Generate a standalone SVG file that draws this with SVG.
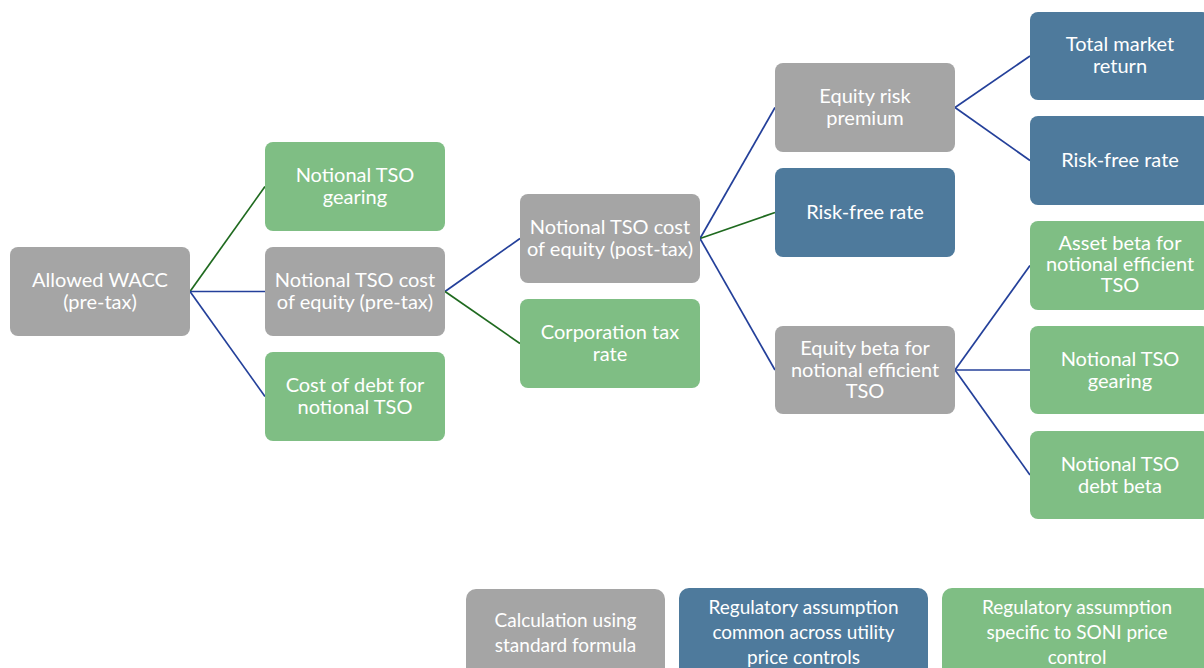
<svg xmlns="http://www.w3.org/2000/svg" width="1204" height="668" viewBox="0 0 1204 668">
<style>
.n rect{stroke:none}
.g rect{fill:#A5A5A5}
.b rect{fill:#4E7A9C}
.e rect{fill:#7FBE84}
text{font-family:Lato,"Liberation Sans",sans-serif;font-size:20px;fill:#fff;text-anchor:middle}
.lg text{font-size:19px}
.cb{stroke:#24409A;stroke-width:1.7;fill:none}
.cg{stroke:#1F6A1F;stroke-width:1.7;fill:none}
</style>
<rect width="1204" height="668" fill="#fff"/>
<g id="connectors">
<line class="cg" x1="190" y1="291.5" x2="265" y2="186.5"/>
<line class="cb" x1="190" y1="291.5" x2="265" y2="291.5"/>
<line class="cb" x1="190" y1="291.5" x2="265" y2="396.5"/>
<line class="cb" x1="445" y1="291.5" x2="520" y2="238.5"/>
<line class="cg" x1="445" y1="291.5" x2="520" y2="343.5"/>
<line class="cb" x1="700" y1="238.5" x2="775" y2="107.5"/>
<line class="cg" x1="700" y1="238.5" x2="775" y2="212.5"/>
<line class="cb" x1="700" y1="238.5" x2="775" y2="370"/>
<line class="cb" x1="955" y1="107.5" x2="1030" y2="56"/>
<line class="cb" x1="955" y1="107.5" x2="1030" y2="160.5"/>
<line class="cb" x1="955" y1="370" x2="1030" y2="265.5"/>
<line class="cb" x1="955" y1="370" x2="1030" y2="370"/>
<line class="cb" x1="955" y1="370" x2="1030" y2="475"/>
</g>
<g id="allowed-wacc" class="n g"><rect x="10" y="247" width="180" height="89" rx="8"/><text x="100" y="287">Allowed WACC</text><text x="100" y="309">(pre-tax)</text></g>
<g id="gearing1" class="n e"><rect x="265" y="142" width="180" height="89" rx="8"/><text x="355" y="182">Notional TSO</text><text x="355" y="204">gearing</text></g>
<g id="coe-pretax" class="n g"><rect x="265" y="247" width="180" height="89" rx="8"/><text x="355" y="287">Notional TSO cost</text><text x="355" y="309">of equity (pre-tax)</text></g>
<g id="cost-of-debt" class="n e"><rect x="265" y="352" width="180" height="89" rx="8"/><text x="355" y="392">Cost of debt for</text><text x="355" y="414">notional TSO</text></g>
<g id="coe-posttax" class="n g"><rect x="520" y="194" width="180" height="89" rx="8"/><text x="610" y="234">Notional TSO cost</text><text x="610" y="256">of equity (post-tax)</text></g>
<g id="corp-tax" class="n e"><rect x="520" y="299" width="180" height="89" rx="8"/><text x="610" y="339">Corporation tax</text><text x="610" y="361">rate</text></g>
<g id="erp" class="n g"><rect x="775" y="63" width="180" height="89" rx="8"/><text x="865" y="103">Equity risk</text><text x="865" y="125">premium</text></g>
<g id="rfr1" class="n b"><rect x="775" y="168" width="180" height="89" rx="8"/><text x="865" y="219">Risk-free rate</text></g>
<g id="equity-beta" class="n g"><rect x="775" y="326" width="180" height="88" rx="8"/><text x="865" y="355">Equity beta for</text><text x="865" y="377">notional efficient</text><text x="865" y="398">TSO</text></g>
<g id="tmr" class="n b"><rect x="1030" y="12" width="180" height="88" rx="8"/><text x="1120" y="51">Total market</text><text x="1120" y="73">return</text></g>
<g id="rfr2" class="n b"><rect x="1030" y="116" width="180" height="89" rx="8"/><text x="1120" y="167">Risk-free rate</text></g>
<g id="asset-beta" class="n e"><rect x="1030" y="221" width="180" height="89" rx="8"/><text x="1120" y="250">Asset beta for</text><text x="1120" y="271">notional efficient</text><text x="1120" y="292">TSO</text></g>
<g id="gearing2" class="n e"><rect x="1030" y="326" width="180" height="88" rx="8"/><text x="1120" y="366">Notional TSO</text><text x="1120" y="388">gearing</text></g>
<g id="debt-beta" class="n e"><rect x="1030" y="431" width="180" height="88" rx="8"/><text x="1120" y="471">Notional TSO</text><text x="1120" y="493">debt beta</text></g>
<g id="legend" class="lg">
<g id="legend-calc" class="n g"><rect x="466" y="589" width="199" height="100" rx="10"/><text x="565.5" y="627">Calculation using</text><text x="565.5" y="652">standard formula</text></g>
<g id="legend-common" class="n b"><rect x="679" y="588" width="249" height="100" rx="10"/><text x="803.5" y="614">Regulatory assumption</text><text x="803.5" y="639">common across utility</text><text x="803.5" y="664">price controls</text></g>
<g id="legend-specific" class="n e"><rect x="942" y="588" width="270" height="100" rx="10"/><text x="1077" y="614">Regulatory assumption</text><text x="1077" y="639">specific to SONI price</text><text x="1077" y="664">control</text></g>
</g>
</svg>
